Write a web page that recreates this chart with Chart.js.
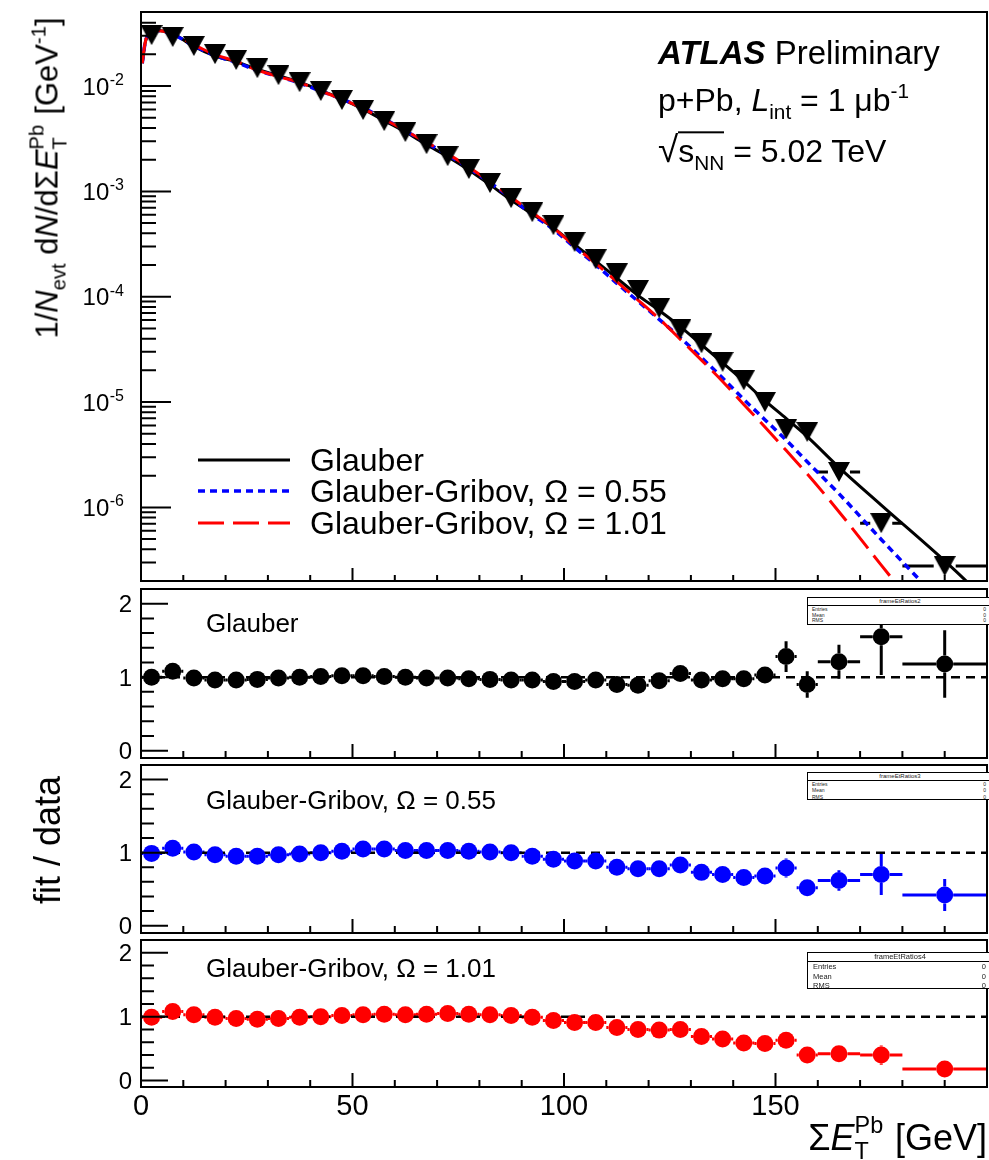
<!DOCTYPE html>
<html>
<head>
<meta charset="utf-8">
<script src="https://cdn.jsdelivr.net/npm/chart.js@4/dist/chart.umd.min.js"></script>
<style>
html,body{margin:0;padding:0;background:#fff;}
#wrap{position:relative;width:989px;height:1160px;overflow:hidden;background:#fff;font-family:"Liberation Sans",Arial,Helvetica,sans-serif;color:#000;}
canvas{position:absolute;left:0;}
.t{position:absolute;white-space:nowrap;line-height:1;transform:translateY(-0.49em);}
.rot{position:absolute;white-space:nowrap;line-height:1;transform:translate(-50%,-50%) rotate(-90deg);}
sub,sup{font-size:0.65em;line-height:0;position:relative;vertical-align:baseline;}
sup{top:-0.62em;}
sub{top:0.38em;}
.ss{display:inline-block;position:relative;height:0;font-size:0.65em;}
.ss .up{position:absolute;left:0;bottom:0.55em;line-height:1;}
.ss .dn{position:absolute;left:0;top:-0.42em;line-height:1;}
.stat{position:absolute;border:1.5px solid #000;background:#fff;color:#222;box-sizing:border-box;}
.stat div{position:absolute;white-space:nowrap;line-height:1;}
.leg{position:absolute;left:198px;width:92px;height:8px;overflow:visible;}
</style>
</head>
<body>
<div id="wrap">
  <canvas id="c0" width="989" height="590" style="top:0px;width:989px;height:590px"></canvas>
  <canvas id="c1" width="989" height="185" style="top:581px;width:989px;height:185px"></canvas>
  <canvas id="c2" width="989" height="184" style="top:757px;width:989px;height:184px"></canvas>
  <canvas id="c3" width="989" height="228" style="top:932px;width:989px;height:228px"></canvas>

  <!-- main panel annotations -->
  <div class="t" style="left:658px;top:52px;font-size:33px"><b><i>ATLAS</i></b> Preliminary</div>
  <div class="t" style="left:658px;top:100px;font-size:32px">p+Pb, <i>L</i><sub>int</sub> = 1 μb<sup>-1</sup></div>
  <div class="t" style="left:658px;top:148px;font-size:32px"><span style="font-size:1.15em">√</span><span style="border-top:2px solid #000;">s<sub>NN</sub></span> = 5.02 TeV</div>

  <!-- legend -->
  <svg class="leg" style="top:456px" width="92" height="8"><line x1="0" y1="4" x2="92" y2="4" stroke="#000" stroke-width="3"/></svg>
  <svg class="leg" style="top:487px" width="92" height="8"><line x1="0" y1="4" x2="92" y2="4" stroke="#0000ff" stroke-width="3.5" stroke-dasharray="7,5"/></svg>
  <svg class="leg" style="top:519px" width="92" height="8"><line x1="0" y1="4" x2="92" y2="4" stroke="#ff0000" stroke-width="3" stroke-dasharray="26,9"/></svg>
  <div class="t" style="left:310px;top:460px;font-size:32px">Glauber</div>
  <div class="t" style="left:310px;top:491px;font-size:32px">Glauber-Gribov, Ω = 0.55</div>
  <div class="t" style="left:310px;top:523px;font-size:32px">Glauber-Gribov, Ω = 1.01</div>

  <!-- ratio panel labels -->
  <div class="t" style="left:206px;top:623px;font-size:26px">Glauber</div>
  <div class="t" style="left:206px;top:800px;font-size:26px">Glauber-Gribov, Ω = 0.55</div>
  <div class="t" style="left:206px;top:968px;font-size:26px">Glauber-Gribov, Ω = 1.01</div>

  <!-- stat boxes -->
  <div class="stat" style="left:807px;top:597px;width:186px;height:28px;font-size:5px">
    <div style="left:0;right:0;top:0;height:7px;border-bottom:1px solid #000;text-align:center;font-size:6px">frameEtRatios2</div>
    <div style="left:4px;top:9px">Entries</div><div style="right:6px;top:9px">0</div>
    <div style="left:4px;top:15px">Mean</div><div style="right:6px;top:15px">0</div>
    <div style="left:4px;top:20px">RMS</div><div style="right:6px;top:20px">0</div>
  </div>
  <div class="stat" style="left:807px;top:772px;width:186px;height:28px;font-size:5px">
    <div style="left:0;right:0;top:0;height:7px;border-bottom:1px solid #000;text-align:center;font-size:6px">frameEtRatios3</div>
    <div style="left:4px;top:9px">Entries</div><div style="right:6px;top:9px">0</div>
    <div style="left:4px;top:15px">Mean</div><div style="right:6px;top:15px">0</div>
    <div style="left:4px;top:22px">RMS</div><div style="right:6px;top:22px">0</div>
  </div>
  <div class="stat" style="left:807px;top:952px;width:186px;height:37px;font-size:7.5px">
    <div style="left:0;right:0;top:0;height:8px;border-bottom:1px solid #000;text-align:center;font-size:7.5px">frameEtRatios4</div>
    <div style="left:5px;top:10px">Entries</div><div style="right:6px;top:10px">0</div>
    <div style="left:5px;top:19.5px">Mean</div><div style="right:6px;top:19.5px">0</div>
    <div style="left:5px;top:29px">RMS</div><div style="right:6px;top:29px">0</div>
  </div>

  <!-- axis titles -->
  <div class="rot" style="left:47px;top:178px;font-size:31px">1/<i>N</i><sub>evt</sub> d<i>N</i>/dΣ<i>E</i><span class="ss" style="width:1.3em"><span class="up">Pb</span><span class="dn">T</span></span> [GeV<sup>-1</sup>]</div>
  <div class="rot" style="left:48px;top:840px;font-size:36px">fit / data</div>
  <div class="t" style="right:2px;top:1138px;font-size:36px">Σ<i>E</i><span class="ss" style="width:1.3em"><span class="up">Pb</span><span class="dn">T</span></span> [GeV]</div>
</div>

<script>
// ---------------- data ----------------
const binCenters = [2.5,7.5,12.5,17.5,22.5,27.5,32.5,37.5,42.5,47.5,52.5,57.5,62.5,67.5,72.5,77.5,82.5,87.5,92.5,97.5,
  102.5,107.5,112.5,117.5,122.5,127.5,132.5,137.5,142.5,147.5,152.5,157.5,165,175,190];
const binHalfWidths = [2.5,2.5,2.5,2.5,2.5,2.5,2.5,2.5,2.5,2.5,2.5,2.5,2.5,2.5,2.5,2.5,2.5,2.5,2.5,2.5,
  2.5,2.5,2.5,2.5,2.5,2.5,2.5,2.5,2.5,2.5,2.5,2.5,5,5,10];
const dataYield = [0.0305,0.0292,0.0240,0.0201,0.0177,0.0148,0.0127,0.0109,0.00897,0.00737,
  0.00592,0.00465,0.00366,0.00281,0.00216,0.00163,0.00120,0.000864,0.000635,0.000478,
  0.000332,0.000227,0.000167,0.000116,7.8e-5,4.92e-5,3.62e-5,2.41e-5,1.61e-5,1.0e-5,
  5.52e-6,5.21e-6,2.17e-6,7.08e-7,2.77e-7];

const ratioGlauber = [1.00,1.08,0.99,0.96,0.96,0.97,0.99,1.00,1.01,1.02,
  1.02,1.01,1.00,0.99,0.99,0.98,0.97,0.96,0.96,0.94,
  0.94,0.96,0.90,0.89,0.95,1.05,0.96,0.98,0.98,1.03,
  1.28,0.90,1.21,1.55,1.18];
const errGlauber = [0.01,0.01,0.01,0.01,0.01,0.01,0.01,0.01,0.01,0.01,
  0.01,0.01,0.01,0.01,0.01,0.015,0.015,0.015,0.02,0.02,
  0.02,0.025,0.025,0.03,0.03,0.04,0.04,0.045,0.05,0.08,
  0.21,0.18,0.23,0.52,0.46];

const ratioGG055 = [0.99,1.06,1.01,0.97,0.95,0.95,0.97,0.98,1.00,1.02,
  1.05,1.05,1.03,1.03,1.03,1.02,1.01,1.00,0.95,0.91,
  0.885,0.885,0.80,0.78,0.78,0.83,0.73,0.70,0.66,0.68,
  0.79,0.52,0.62,0.70,0.42];
const errGG055 = [0.01,0.01,0.01,0.01,0.01,0.01,0.01,0.01,0.01,0.01,
  0.01,0.01,0.01,0.01,0.01,0.015,0.015,0.015,0.02,0.02,
  0.02,0.02,0.02,0.025,0.025,0.03,0.03,0.03,0.035,0.06,
  0.13,0.10,0.14,0.28,0.22];

const ratioGG101 = [0.99,1.08,1.03,0.99,0.97,0.96,0.97,0.99,1.00,1.02,
  1.03,1.04,1.03,1.04,1.05,1.04,1.03,1.02,0.99,0.94,
  0.91,0.91,0.83,0.80,0.79,0.80,0.69,0.65,0.59,0.58,
  0.63,0.40,0.42,0.40,0.18];
const errGG101 = [0.01,0.01,0.01,0.01,0.01,0.01,0.01,0.01,0.01,0.01,
  0.01,0.01,0.01,0.01,0.01,0.015,0.015,0.015,0.02,0.02,
  0.02,0.02,0.02,0.025,0.025,0.03,0.03,0.03,0.03,0.05,
  0.09,0.07,0.06,0.15,0.05];

// fit curves (main panel)
const curveX = [0.3,1,2,3.5,5,
  7.5,12.5,17.5,22.5,27.5,32.5,37.5,42.5,47.5,52.5,
  57.5,62.5,67.5,72.5,77.5,82.5,87.5,92.5,97.5,102.5,
  107.5,112.5,117.5,122.5,127.5,132.5,137.5,142.5,147.5,152.5,
  157.5,165,175,190,200];
const curveGlauber = [0.0165,0.026,0.032,0.0338,0.0334,
  0.0315,0.0238,0.0193,0.0170,0.01436,0.01257,0.0109,0.00906,0.00752,0.00604,
  0.00470,0.00366,0.00278,0.00214,0.00160,0.00116,0.00083,0.00061,0.00045,0.000312,
  0.000218,0.000150,0.000103,7.4e-5,5.2e-5,3.5e-5,2.36e-5,1.58e-5,1.03e-5,7.0e-6,
  4.7e-6,2.4e-6,1.05e-6,3.1e-7,1.3e-7];
const curveGG055 = [0.0165,0.026,0.032,0.0337,0.0333,
  0.0310,0.0242,0.0195,0.0168,0.01406,0.01232,0.01068,0.00897,0.00752,0.00622,
  0.00488,0.00377,0.00289,0.00222,0.00166,0.00121,0.000864,0.000603,0.000435,0.000294,
  0.000201,0.000134,9.05e-5,6.1e-5,4.08e-5,2.64e-5,1.69e-5,1.06e-5,6.8e-6,4.36e-6,
  2.71e-6,1.35e-6,4.96e-7,1.16e-7,4.5e-8];
const curveGG101 = [0.0165,0.026,0.032,0.0337,0.0334,
  0.0315,0.0247,0.0199,0.0172,0.0142,0.01232,0.01079,0.00897,0.00752,0.0061,
  0.00484,0.00377,0.00292,0.00227,0.0017,0.00124,0.00088,0.00063,0.00045,0.000302,
  0.000207,0.000139,9.3e-5,6.16e-5,3.94e-5,2.5e-5,1.57e-5,9.5e-6,5.8e-6,3.48e-6,
  2.08e-6,9.1e-7,2.83e-7,5.0e-8,1.5e-8];

// axes / ticks
const xRange = [0, 200];
const xTickValues = [0,10,20,30,40,50,60,70,80,90,100,110,120,130,140,150,160,170,180,190,200];
const xLabelValues = [0,50,100,150];
const mainYRange = [2.0e-7, 0.0505];
const logExponents = [-7,-6,-5,-4,-3,-2,-1];
const logMantissas = [1,2,3,4,5,6,7,8,9];
const logLabelExponents = [-6,-5,-4,-3,-2];
const ratioYRange = [-0.1, 2.2];
const ratioTickValues = [0,0.2,0.4,0.6,0.8,1,1.2,1.4,1.6,1.8,2];
const ratioLabelValues = [0,1,2];
const unityX = [0, 200];
const unityY = [1, 1];

// ---------------- drawing ----------------
const FONT = '"Liberation Sans", Arial, Helvetica, sans-serif';
const LEFT = 141, RIGHT = 987;

function triangleDown() {
  const c = document.createElement('canvas');
  c.width = 22; c.height = 20;
  const g = c.getContext('2d');
  g.fillStyle = '#000';
  g.beginPath(); g.moveTo(0, 0); g.lineTo(22, 0); g.lineTo(11, 20); g.closePath(); g.fill();
  return c;
}

const panelPlugin = {
  id: 'panel',
  beforeDatasetsDraw(chart, args, o) {
    if (!o.vals) return;
    const ctx = chart.ctx, a = chart.chartArea, xs = chart.scales.x, ys = chart.scales.y;
    ctx.save();
    ctx.beginPath(); ctx.rect(a.left, a.top, a.right - a.left, a.bottom - a.top); ctx.clip();
    ctx.strokeStyle = o.color; ctx.lineWidth = 3; ctx.lineCap = 'butt';
    binCenters.forEach((c, i) => {
      const xc = xs.getPixelForValue(c);
      const xl = xs.getPixelForValue(c - binHalfWidths[i]);
      const xr = xs.getPixelForValue(c + binHalfWidths[i]);
      const yc = ys.getPixelForValue(o.vals[i]);
      ctx.beginPath();
      if (xc - xl > o.gap) {
        ctx.moveTo(xl, yc); ctx.lineTo(xc - o.gap, yc);
        ctx.moveTo(xc + o.gap, yc); ctx.lineTo(xr, yc);
      }
      if (o.errs) {
        const yh = ys.getPixelForValue(o.vals[i] + o.errs[i]);
        const yl = ys.getPixelForValue(o.vals[i] - o.errs[i]);
        if (yc - yh > o.gap) {
          ctx.moveTo(xc, yh); ctx.lineTo(xc, yc - o.gap);
          ctx.moveTo(xc, yc + o.gap); ctx.lineTo(xc, yl);
        }
      }
      ctx.stroke();
    });
    ctx.restore();
  },
  afterDraw(chart, args, o) {
    const ctx = chart.ctx, a = chart.chartArea, xs = chart.scales.x, ys = chart.scales.y;
    ctx.save();
    ctx.strokeStyle = '#000'; ctx.lineWidth = 2;
    ctx.strokeRect(a.left, a.top, a.right - a.left, a.bottom - a.top);
    ctx.beginPath();
    xTickValues.forEach(v => {
      const x = xs.getPixelForValue(v);
      if (x <= a.left + 1 || x >= a.right - 1) return;
      const L = (v % 50 === 0) ? o.xMajor : o.xMinor;
      ctx.moveTo(x, a.bottom); ctx.lineTo(x, a.bottom - L);
    });
    const yt = [];
    if (o.log) {
      logExponents.forEach(e => logMantissas.forEach(m => yt.push({v: m * Math.pow(10, e), major: m === 1})));
    } else {
      ratioTickValues.forEach(v => yt.push({v: v, major: ratioLabelValues.indexOf(v) >= 0}));
    }
    yt.forEach(t => {
      const y = ys.getPixelForValue(t.v);
      if (y < a.top + 1 || y > a.bottom - 1) return;
      ctx.moveTo(a.left, y); ctx.lineTo(a.left + (t.major ? o.yMajor : o.yMinor), y);
    });
    ctx.stroke();

    ctx.fillStyle = '#000';
    ctx.textBaseline = 'alphabetic';
    if (o.log) {
      logLabelExponents.forEach(e => {
        const y = ys.getPixelForValue(Math.pow(10, e));
        const sup = String(e);
        ctx.font = '16px ' + FONT;
        const sw = ctx.measureText(sup).width;
        const xr = o.yLabelRight;
        ctx.textAlign = 'left';
        ctx.fillText(sup, xr - sw, y - 1);
        ctx.font = '24px ' + FONT;
        ctx.textAlign = 'right';
        ctx.fillText('10', xr - sw - 0.5, y + 0.358 * 24);
      });
    } else {
      ctx.font = '24px ' + FONT;
      ctx.textAlign = 'right';
      ratioLabelValues.forEach(v => {
        const y = ys.getPixelForValue(v);
        ctx.fillText(String(v), o.yLabelRight, y + 0.358 * 24);
      });
    }
    if (o.xLabels) {
      ctx.font = '29px ' + FONT;
      ctx.textAlign = 'center';
      xLabelValues.forEach(v => {
        const x = xs.getPixelForValue(v);
        ctx.fillText(String(v), x, a.bottom + o.xLabelOffset + 0.358 * 29);
      });
    }
    ctx.restore();
  }
};

function xy(xsArr, ysArr) { return xsArr.map((x, i) => ({x: x, y: ysArr[i]})); }

function baseOptions(pad, yScale, panelOpts) {
  return {
    responsive: false, animation: false, devicePixelRatio: 1, events: [],
    layout: {padding: pad, autoPadding: false},
    scales: {
      x: {type: 'linear', min: xRange[0], max: xRange[1], display: false},
      y: yScale
    },
    plugins: {legend: {display: false}, tooltip: {enabled: false}, panel: panelOpts}
  };
}

// main panel
new Chart(document.getElementById('c0'), {
  type: 'line',
  data: {datasets: [
    {data: xy(binCenters, dataYield), showLine: false, pointStyle: triangleDown(), pointRadius: 10, order: 0},
    {data: xy(curveX, curveGG101), borderColor: '#ff0000', borderWidth: 3, borderDash: [26, 9], pointRadius: 0, cubicInterpolationMode: 'monotone', order: 1},
    {data: xy(curveX, curveGG055), borderColor: '#0000ff', borderWidth: 3.5, borderDash: [7, 5], pointRadius: 0, cubicInterpolationMode: 'monotone', order: 2},
    {data: xy(curveX, curveGlauber), borderColor: '#000000', borderWidth: 3, pointRadius: 0, cubicInterpolationMode: 'monotone', order: 3}
  ]},
  options: baseOptions({left: LEFT, right: 989 - RIGHT, top: 12, bottom: 9},
    {type: 'logarithmic', min: mainYRange[0], max: mainYRange[1], display: false},
    {vals: dataYield, errs: null, color: '#000', gap: 11, log: true, xMajor: 13, xMinor: 6, yMajor: 30, yMinor: 15, yLabelRight: 124}),
  plugins: [panelPlugin]
});

function ratioChart(id, vals, errs, color, padBottom, xLabels) {
  new Chart(document.getElementById(id), {
    type: 'line',
    data: {datasets: [
      {data: xy(binCenters, vals), showLine: false, pointStyle: 'circle', pointRadius: 8.5, pointBackgroundColor: color, pointBorderWidth: 0, order: 0},
      {data: xy(unityX, unityY), borderColor: '#000', borderWidth: 2.5, borderDash: [9, 6], pointRadius: 0, order: 1}
    ]},
    options: baseOptions({left: LEFT, right: 989 - RIGHT, top: 8, bottom: padBottom},
      {type: 'linear', min: ratioYRange[0], max: ratioYRange[1], display: false},
      {vals: vals, errs: errs, color: color, gap: 8.5, log: false, xMajor: 14, xMinor: 7, yMajor: 27, yMinor: 13, yLabelRight: 132, xLabels: xLabels, xLabelOffset: 18}),
    plugins: [panelPlugin]
  });
}
ratioChart('c1', ratioGlauber, errGlauber, '#000000', 8, false);
ratioChart('c2', ratioGG055, errGG055, '#0000ff', 8, false);
ratioChart('c3', ratioGG101, errGG101, '#ff0000', 73, true);
</script>
</body>
</html>
